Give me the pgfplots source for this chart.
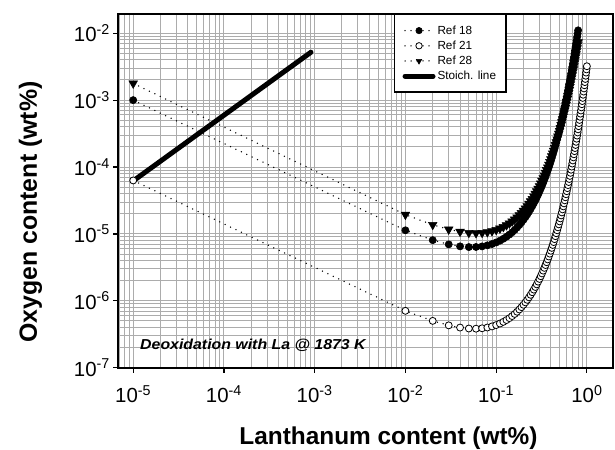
\documentclass[border=0pt]{standalone}
\usepackage{fontspec}
\setmainfont{Liberation Sans}
\usepackage{pgfplots}
\usepackage{pgfplotstable}
\pgfplotsset{compat=1.18}

% tick label: 10 with a text superscript
\newcommand{\tlab}[1]{10\textsuperscript{#1}}

% Ref 18
\pgfplotstableread{
La O
1e-5 1.0e-3
0.01 1.132e-5
0.02 8.07e-6
0.03 6.98e-6
0.04 6.52e-6
0.05 6.36e-6
0.06 6.38e-6
0.07 6.51e-6
0.08 6.75e-6
0.09 7.06e-6
0.10 7.45e-6
0.11 7.92e-6
0.12 8.46e-6
0.13 9.08e-6
0.14 9.78e-6
0.15 1.058e-5
0.16 1.147e-5
0.17 1.247e-5
0.18 1.359e-5
0.19 1.485e-5
0.20 1.624e-5
0.21 1.780e-5
0.22 1.953e-5
0.23 2.147e-5
0.24 2.363e-5
0.25 2.604e-5
0.26 2.871e-5
0.27 3.169e-5
0.28 3.503e-5
0.29 3.874e-5
0.30 4.289e-5
0.31 4.749e-5
0.32 5.265e-5
0.33 5.840e-5
0.34 6.481e-5
0.35 7.196e-5
0.36 7.996e-5
0.37 8.888e-5
0.38 9.886e-5
0.39 1.100e-4
0.40 1.224e-4
0.41 1.364e-4
0.42 1.520e-4
0.43 1.693e-4
0.44 1.887e-4
0.45 2.106e-4
0.46 2.349e-4
0.47 2.622e-4
0.48 2.926e-4
0.49 3.268e-4
0.50 3.650e-4
0.51 4.079e-4
0.52 4.559e-4
0.53 5.096e-4
0.54 5.697e-4
0.55 6.371e-4
0.56 7.126e-4
0.57 7.974e-4
0.58 8.925e-4
0.59 9.99e-4
0.60 1.118e-3
0.61 1.252e-3
0.62 1.403e-3
0.63 1.571e-3
0.64 1.760e-3
0.65 1.972e-3
0.66 2.210e-3
0.67 2.477e-3
0.68 2.776e-3
0.69 3.113e-3
0.70 3.491e-3
0.71 3.915e-3
0.72 4.391e-3
0.73 4.926e-3
0.74 5.527e-3
0.75 6.200e-3
0.76 6.958e-3
0.77 7.809e-3
0.78 8.766e-3
0.79 9.840e-3
0.80 1.105e-2
}\refEighteen

% Ref 21
\pgfplotstableread{
La O
1e-5 6.3e-5
0.01 7.085e-7
0.02 5.013e-7
0.03 4.296e-7
0.04 3.983e-7
0.05 3.855e-7
0.06 3.833e-7
0.07 3.885e-7
0.08 3.991e-7
0.09 4.145e-7
0.10 4.338e-7
0.11 4.572e-7
0.12 4.845e-7
0.13 5.159e-7
0.14 5.514e-7
0.15 5.914e-7
0.16 6.364e-7
0.17 6.862e-7
0.18 7.418e-7
0.19 8.037e-7
0.20 8.724e-7
0.21 9.483e-7
0.22 1.033e-6
0.23 1.126e-6
0.24 1.229e-6
0.25 1.343e-6
0.26 1.470e-6
0.27 1.609e-6
0.28 1.763e-6
0.29 1.935e-6
0.30 2.124e-6
0.31 2.334e-6
0.32 2.567e-6
0.33 2.824e-6
0.34 3.109e-6
0.35 3.425e-6
0.36 3.775e-6
0.37 4.162e-6
0.38 4.592e-6
0.39 5.069e-6
0.40 5.596e-6
0.41 6.183e-6
0.42 6.834e-6
0.43 7.554e-6
0.44 8.354e-6
0.45 9.245e-6
0.46 1.023e-5
0.47 1.133e-5
0.48 1.254e-5
0.49 1.390e-5
0.50 1.539e-5
0.51 1.706e-5
0.52 1.891e-5
0.53 2.097e-5
0.54 2.327e-5
0.55 2.581e-5
0.56 2.863e-5
0.57 3.178e-5
0.58 3.528e-5
0.59 3.917e-5
0.60 4.350e-5
0.61 4.833e-5
0.62 5.369e-5
0.63 5.966e-5
0.64 6.630e-5
0.65 7.369e-5
0.66 8.192e-5
0.67 9.108e-5
0.68 1.013e-4
0.69 1.126e-4
0.70 1.253e-4
0.71 1.394e-4
0.72 1.551e-4
0.73 1.726e-4
0.74 1.921e-4
0.75 2.137e-4
0.76 2.380e-4
0.77 2.649e-4
0.78 2.950e-4
0.79 3.284e-4
0.80 3.658e-4
0.81 4.075e-4
0.82 4.538e-4
0.83 5.056e-4
0.84 5.632e-4
0.85 6.277e-4
0.86 6.993e-4
0.87 7.794e-4
0.88 8.688e-4
0.89 9.683e-4
0.90 1.080e-3
0.91 1.203e-3
0.92 1.342e-3
0.93 1.496e-3
0.94 1.668e-3
0.95 1.860e-3
0.96 2.074e-3
0.97 2.314e-3
0.98 2.581e-3
0.99 2.878e-3
1.00 3.211e-3
}\refTwentyOne

% Ref 28
\pgfplotstableread{
La O
1e-5 1.78e-3
0.01 1.944e-5
0.02 1.370e-5
0.03 1.169e-5
0.04 1.080e-5
0.05 1.041e-5
0.06 1.031e-5
0.07 1.041e-5
0.08 1.065e-5
0.09 1.102e-5
0.10 1.149e-5
0.11 1.206e-5
0.12 1.273e-5
0.13 1.351e-5
0.14 1.438e-5
0.15 1.536e-5
0.16 1.646e-5
0.17 1.768e-5
0.18 1.904e-5
0.19 2.055e-5
0.20 2.222e-5
0.21 2.406e-5
0.22 2.609e-5
0.23 2.833e-5
0.24 3.081e-5
0.25 3.354e-5
0.26 3.655e-5
0.27 3.987e-5
0.28 4.353e-5
0.29 4.758e-5
0.30 5.203e-5
0.31 5.693e-5
0.32 6.238e-5
0.33 6.836e-5
0.34 7.495e-5
0.35 8.224e-5
0.36 9.031e-5
0.37 9.918e-5
0.38 1.090e-4
0.39 1.198e-4
0.40 1.318e-4
0.41 1.451e-4
0.42 1.597e-4
0.43 1.758e-4
0.44 1.937e-4
0.45 2.135e-4
0.46 2.354e-4
0.47 2.595e-4
0.48 2.863e-4
0.49 3.158e-4
0.50 3.486e-4
0.51 3.848e-4
0.52 4.250e-4
0.53 4.695e-4
0.54 5.187e-4
0.55 5.730e-4
0.56 6.335e-4
0.57 7.003e-4
0.58 7.744e-4
0.59 8.565e-4
0.60 9.474e-4
0.61 1.048e-3
0.62 1.160e-3
0.63 1.284e-3
0.64 1.422e-3
0.65 1.574e-3
0.66 1.742e-3
0.67 1.930e-3
0.68 2.137e-3
0.69 2.368e-3
0.70 2.624e-3
0.71 2.907e-3
0.72 3.222e-3
0.73 3.572e-3
0.74 3.960e-3
0.75 4.389e-3
0.76 4.868e-3
0.77 5.397e-3
0.78 5.986e-3
0.79 6.641e-3
0.80 7.366e-3
}\refTwentyEight

% stoichiometric line
\pgfplotstableread{
La O
1e-5 6.2e-5
9.1e-4 5.2e-3
}\stoich

\begin{document}
\begin{tikzpicture}
\begin{axis}[
  scale only axis,
  width=495bp, height=354bp,
  xmode=log, ymode=log,
  xmin=6.87e-6, xmax=1.94,
  ymin=1e-7, ymax=0.0194,
  xtick={1e-5,1e-4,1e-3,1e-2,1e-1,1},
  xticklabels={\tlab{-5},\tlab{-4},\tlab{-3},\tlab{-2},\tlab{-1},\tlab{0}},
  ytick={1e-7,1e-6,1e-5,1e-4,1e-3,1e-2},
  yticklabels={\tlab{-7},\tlab{-6},\tlab{-5},\tlab{-4},\tlab{-3},\tlab{-2}},
  minor xtick={7e-6,8e-6,9e-6,
    2e-5,3e-5,4e-5,5e-5,6e-5,7e-5,8e-5,9e-5,
    2e-4,3e-4,4e-4,5e-4,6e-4,7e-4,8e-4,9e-4,
    2e-3,3e-3,4e-3,5e-3,6e-3,7e-3,8e-3,9e-3,
    2e-2,3e-2,4e-2,5e-2,6e-2,7e-2,8e-2,9e-2,
    0.2,0.3,0.4,0.5,0.6,0.7,0.8,0.9},
  minor ytick={2e-7,3e-7,4e-7,5e-7,6e-7,7e-7,8e-7,9e-7,
    2e-6,3e-6,4e-6,5e-6,6e-6,7e-6,8e-6,9e-6,
    2e-5,3e-5,4e-5,5e-5,6e-5,7e-5,8e-5,9e-5,
    2e-4,3e-4,4e-4,5e-4,6e-4,7e-4,8e-4,9e-4,
    2e-3,3e-3,4e-3,5e-3,6e-3,7e-3,8e-3,9e-3},
  grid=both,
  major grid style={gray!65, line width=1bp},
  minor grid style={gray!65, line width=1bp},
  xtick pos=left, ytick pos=left,
  tick align=outside,
  major tick length=5bp, minor tick length=0bp,
  tick style={black, line width=1.2bp},
  axis line style={black, line width=2bp},
  tick label style={font=\fontsize{20.5}{22}\selectfont},
  xticklabel style={yshift=-9bp},
  xlabel={Lanthanum content (wt\%)},
  ylabel={Oxygen content (wt\%)},
  xlabel style={font=\bfseries\fontsize{24.5}{28}\selectfont,
    at={(axis description cs:0.546,-0.2175)}, anchor=base},
  ylabel style={font=\bfseries\fontsize{25}{30}\selectfont,
    at={(axis description cs:-0.165,0.44)}, anchor=base},
  legend cell align=left,
  legend style={at={(0.557,1)}, anchor=north west, draw=black,
    line width=1.3bp, font=\fontsize{11.8}{13}\selectfont,
    inner xsep=8bp, inner ysep=9bp, row sep=1.2bp},
  legend image code/.code={\draw[mark repeat=2,mark phase=2,#1]
    plot coordinates {(0bp,0bp) (14bp,0bp) (28bp,0bp)};},
  legend image post style={mark size=3.2bp},
]

\addplot[black, line width=1.5bp, dash pattern=on 0bp off 6bp, line cap=round,
  mark=*, mark size=3.6bp, mark options={solid, fill=black, line width=0.6bp}]
  table[x=La, y=O] {\refEighteen};
\addlegendentry{Ref 18}

\addplot[black, line width=1.5bp, dash pattern=on 0bp off 6bp, line cap=round,
  mark=*, mark size=3.5bp, mark options={solid, fill=white, line width=0.8bp}]
  table[x=La, y=O] {\refTwentyOne};
\addlegendentry{Ref 21}

\addplot[black, line width=1.5bp, dash pattern=on 0bp off 6bp, line cap=round,
  mark=triangle*, mark size=5bp, mark options={solid, fill=black, rotate=180, line width=0.5bp}]
  table[x=La, y=O] {\refTwentyEight};
\addlegendentry{Ref 28}

\addplot[black, line width=5bp, line cap=round] table[x=La, y=O] {\stoich};
\addlegendentry{Stoich. line}

\node[anchor=west, font=\bfseries\itshape\fontsize{14.5}{16}\selectfont]
  at (rel axis cs:0.037,0.062) {\scalebox{1.1}[1]{Deoxidation with La @ 1873 K}};

\coordinate (ll) at (rel axis cs:0,0);
\coordinate (ur) at (rel axis cs:1,1);
\end{axis}
\pgfresetboundingbox
\path[use as bounding box] ([shift={(-118.5bp,-82bp)}]ll) rectangle ([shift={(2bp,14bp)}]ur);
\end{tikzpicture}
\end{document}
